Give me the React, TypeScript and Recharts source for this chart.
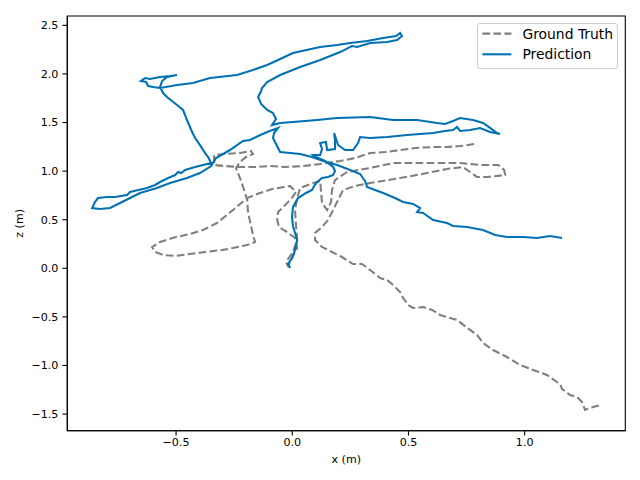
import React from 'react';
import { LineChart, Line, XAxis, YAxis, Legend, ReferenceArea } from 'recharts';

// Ground truth trajectory (x, z) in metres
const groundTruth: [number, number][] = [
  [0.782, 1.279], [0.756, 1.268], [0.722, 1.258], [0.666, 1.248], [0.606, 1.248], [0.529, 1.238],
  [0.464, 1.217], [0.399, 1.196], [0.335, 1.186], [0.270, 1.135], [0.206, 1.104], [0.120, 1.073],
  [0.046, 1.052], [-0.031, 1.042], [-0.096, 1.052], [-0.160, 1.042], [-0.225, 1.042], [-0.289, 1.052],
  [-0.336, 1.063], [-0.336, 1.166], [-0.289, 1.176], [-0.225, 1.186], [-0.178, 1.207], [-0.169, 1.176],
  [-0.199, 1.145], [-0.225, 1.094], [-0.242, 1.032], [-0.225, 0.929], [-0.207, 0.806], [-0.194, 0.703],
  [-0.190, 0.569], [-0.177, 0.435], [-0.168, 0.332], [-0.160, 0.271], [-0.194, 0.240], [-0.255, 0.209],
  [-0.302, 0.188], [-0.375, 0.168], [-0.440, 0.147], [-0.504, 0.127], [-0.556, 0.137], [-0.590, 0.168],
  [-0.603, 0.219], [-0.569, 0.271], [-0.500, 0.322], [-0.440, 0.353], [-0.384, 0.394], [-0.324, 0.466],
  [-0.255, 0.600], [-0.194, 0.723], [-0.139, 0.775], [-0.087, 0.816], [-0.035, 0.836], [-0.009, 0.847],
  [0.016, 0.785], [-0.005, 0.713], [-0.035, 0.641], [-0.061, 0.579], [-0.065, 0.497], [-0.057, 0.425],
  [-0.022, 0.373], [0.012, 0.312], [0.021, 0.209], [-0.001, 0.106], [-0.018, 0.024], [-0.027, 0.065],
  [0.003, 0.168], [0.021, 0.291], [0.016, 0.445], [0.012, 0.600], [0.021, 0.723], [0.034, 0.826],
  [0.090, 0.878], [0.120, 0.898], [0.124, 0.785], [0.128, 0.672], [0.150, 0.600], [0.167, 0.682],
  [0.171, 0.806], [0.184, 0.908], [0.236, 0.991], [0.335, 1.032], [0.434, 1.083], [0.580, 1.083],
  [0.722, 1.083], [0.808, 1.063], [0.886, 1.063], [0.912, 1.011], [0.916, 0.960], [0.881, 0.950],
  [0.838, 0.939], [0.795, 0.939], [0.765, 0.991], [0.735, 1.042], [0.666, 1.022], [0.580, 0.980],
  [0.464, 0.929], [0.335, 0.878], [0.270, 0.847], [0.219, 0.806], [0.197, 0.703], [0.176, 0.600],
  [0.154, 0.497], [0.128, 0.425], [0.098, 0.363], [0.098, 0.291], [0.128, 0.219], [0.171, 0.168],
  [0.214, 0.116], [0.261, 0.044], [0.300, 0.044], [0.335, -0.018], [0.378, -0.100], [0.408, -0.120],
  [0.434, -0.172], [0.464, -0.244], [0.477, -0.306], [0.499, -0.378], [0.520, -0.408], [0.563, -0.398],
  [0.602, -0.429], [0.636, -0.480], [0.679, -0.511], [0.709, -0.532], [0.748, -0.604], [0.795, -0.686],
  [0.821, -0.769], [0.864, -0.841], [0.924, -0.913], [0.980, -0.995], [1.036, -1.046], [1.096, -1.098],
  [1.139, -1.170], [1.152, -1.190], [1.161, -1.242], [1.195, -1.303], [1.225, -1.324], [1.247, -1.376],
  [1.260, -1.458], [1.281, -1.437], [1.311, -1.417], [1.329, -1.406],
];

// Predicted trajectory (x, z) in metres
const prediction: [number, number][] = [
  [-0.009, 0.003], [-0.018, 0.044], [-0.001, 0.106], [0.012, 0.188], [0.021, 0.291], [0.012, 0.363],
  [0.003, 0.435], [-0.001, 0.528], [0.003, 0.631], [0.025, 0.723], [0.059, 0.775], [0.085, 0.806],
  [0.094, 0.847], [0.107, 0.888], [0.128, 0.929], [0.154, 0.939], [0.176, 0.960], [0.184, 1.001],
  [0.176, 1.042], [0.141, 1.104], [0.102, 1.145], [0.090, 1.166], [0.120, 1.166], [0.128, 1.227],
  [0.120, 1.289], [0.145, 1.299], [0.150, 1.217], [0.184, 1.227], [0.184, 1.320], [0.180, 1.392],
  [0.197, 1.269], [0.227, 1.217], [0.262, 1.217], [0.283, 1.289], [0.292, 1.351], [0.335, 1.341],
  [0.408, 1.351], [0.494, 1.372], [0.550, 1.382], [0.606, 1.392], [0.657, 1.413], [0.692, 1.423],
  [0.709, 1.454], [0.722, 1.413], [0.765, 1.423], [0.808, 1.444], [0.851, 1.403], [0.894, 1.382],
  [0.881, 1.392], [0.851, 1.444], [0.821, 1.495], [0.778, 1.526], [0.722, 1.546], [0.692, 1.515],
  [0.657, 1.485], [0.623, 1.495], [0.537, 1.526], [0.434, 1.526], [0.335, 1.557], [0.193, 1.546],
  [0.107, 1.526], [0.003, 1.505], [-0.052, 1.495], [-0.087, 1.474], [-0.070, 1.536], [-0.083, 1.598],
  [-0.108, 1.629], [-0.134, 1.691], [-0.147, 1.763], [-0.134, 1.824], [-0.130, 1.855], [-0.108, 1.917],
  [-0.052, 1.989], [0.034, 2.071], [0.120, 2.143], [0.206, 2.225], [0.257, 2.287], [0.279, 2.277],
  [0.335, 2.318], [0.408, 2.328], [0.451, 2.349], [0.472, 2.390], [0.464, 2.421], [0.447, 2.390],
  [0.391, 2.369], [0.322, 2.338], [0.249, 2.318], [0.193, 2.297], [0.120, 2.277], [0.003, 2.215],
  [-0.052, 2.153], [-0.108, 2.092], [-0.169, 2.040], [-0.238, 1.989], [-0.354, 1.958], [-0.427, 1.907],
  [-0.496, 1.886], [-0.569, 1.855], [-0.599, 1.865], [-0.620, 1.876], [-0.629, 1.917], [-0.651, 1.927],
  [-0.633, 1.958], [-0.612, 1.948], [-0.569, 1.968], [-0.526, 1.978], [-0.496, 1.989], [-0.539, 1.968],
  [-0.560, 1.927], [-0.569, 1.865], [-0.556, 1.803], [-0.539, 1.762], [-0.496, 1.680], [-0.470, 1.629],
  [-0.461, 1.577], [-0.453, 1.526], [-0.440, 1.454], [-0.431, 1.402], [-0.418, 1.340], [-0.397, 1.268],
  [-0.375, 1.186], [-0.362, 1.145], [-0.349, 1.083], [-0.384, 1.063], [-0.418, 1.042], [-0.461, 1.011],
  [-0.478, 0.980], [-0.491, 0.991], [-0.504, 0.960], [-0.534, 0.929], [-0.569, 0.888], [-0.590, 0.857],
  [-0.625, 0.826], [-0.698, 0.785], [-0.711, 0.754], [-0.763, 0.733], [-0.797, 0.733], [-0.836, 0.723],
  [-0.849, 0.682], [-0.861, 0.620], [-0.827, 0.610], [-0.784, 0.620], [-0.741, 0.672], [-0.698, 0.723],
  [-0.655, 0.775], [-0.582, 0.826], [-0.526, 0.878], [-0.453, 0.929], [-0.397, 0.980], [-0.349, 1.052],
  [-0.328, 1.135], [-0.268, 1.217], [-0.212, 1.310], [-0.182, 1.320], [-0.147, 1.361], [-0.108, 1.403],
  [-0.061, 1.444], [-0.078, 1.392], [-0.083, 1.341], [-0.070, 1.279], [-0.052, 1.197], [-0.009, 1.186],
  [0.034, 1.176], [0.085, 1.145], [0.133, 1.104], [0.193, 1.063], [0.249, 1.011], [0.292, 0.970],
  [0.313, 0.898], [0.322, 0.836], [0.356, 0.806], [0.391, 0.775], [0.442, 0.723], [0.477, 0.682],
  [0.520, 0.662], [0.550, 0.620], [0.537, 0.579], [0.563, 0.569], [0.606, 0.497], [0.666, 0.466],
  [0.692, 0.435], [0.752, 0.425], [0.821, 0.394], [0.873, 0.343], [0.924, 0.322], [0.993, 0.322],
  [1.053, 0.312], [1.109, 0.333], [1.161, 0.312],
];

const xTicks = [-0.5, 0.0, 0.5, 1.0];
const yTicks = [-1.5, -1.0, -0.5, 0.0, 0.5, 1.0, 1.5, 2.0, 2.5];
const xDomain: [number, number] = [-0.968, 1.433];
const yDomain: [number, number] = [-1.671, 2.596];

const seriesNames = ['Ground Truth', 'Prediction'];
const GT_COLOR = '#7f7f7f';
const PRED_COLOR = '#0072B2';
const FONT = "'DejaVu Sans', sans-serif";

const gtData = groundTruth.map(([x, y]) => ({ x, y }));
const predData = prediction.map(([x, y]) => ({ x, y }));

const fmt = (v: number) => v.toFixed(1).replace('-', '\u2212');

const LegendBox = () => (
  <div
    style={{
      width: 141,
      height: 46,
      boxSizing: 'border-box',
      border: '1px solid #cccccc',
      borderRadius: 3,
      background: 'rgba(255,255,255,0.8)',
      position: 'relative',
      fontFamily: FONT,
      fontSize: 13.9,
      color: '#000',
    }}
  >
    <svg width={141} height={46} style={{ position: 'absolute', left: -1, top: -1 }}>
      <line x1={5.4} x2={34.4} y1={10.6} y2={10.6} stroke={GT_COLOR} strokeWidth={2.08} strokeDasharray="7.7 3.3" />
      <line x1={5.4} x2={34.4} y1={31.3} y2={31.3} stroke={PRED_COLOR} strokeWidth={2.08} />
      <text x={45.4} y={10.6} dominantBaseline="central" fontFamily={FONT} fontSize={13.9} fill="#000">
        {seriesNames[0]}
      </text>
      <text x={45.4} y={31.3} dominantBaseline="central" fontFamily={FONT} fontSize={13.9} fill="#000">
        {seriesNames[1]}
      </text>
    </svg>
  </div>
);

export default function App() {
  const tickStyle = { fill: '#000', fontSize: 11.1, fontFamily: FONT };
  return (
    <div style={{ position: 'absolute', left: 0, top: 0, width: 640, height: 480, background: '#fff' }}>
      <LineChart
        width={640}
        height={480}
        margin={{ top: 16, right: 14.7, bottom: 13.3, left: 17.3 }}
      >
        <XAxis
          type="number"
          dataKey="x"
          domain={xDomain}
          allowDataOverflow
          ticks={xTicks}
          tickFormatter={fmt}
          height={36}
          tickSize={4.9}
          tickMargin={3}
          axisLine={{ stroke: '#000', strokeWidth: 1.1 }}
          tickLine={{ stroke: '#000', strokeWidth: 1.1 }}
          tick={tickStyle}
          label={{ value: 'x (m)', position: 'insideBottom', offset: 4, fill: '#000', fontSize: 11.1, fontFamily: FONT }}
        />
        <YAxis
          type="number"
          dataKey="y"
          domain={yDomain}
          allowDataOverflow
          ticks={yTicks}
          tickFormatter={fmt}
          width={50}
          tickSize={4.9}
          tickMargin={4}
          axisLine={{ stroke: '#000', strokeWidth: 1.1 }}
          tickLine={{ stroke: '#000', strokeWidth: 1.1 }}
          tick={tickStyle}
          label={{
            value: 'z (m)',
            angle: -90,
            position: 'insideLeft',
            offset: 2,
            fill: '#000',
            fontSize: 11.1,
            fontFamily: FONT,
            style: { textAnchor: 'middle' },
          }}
        />
        <ReferenceArea
          x1={xDomain[0]}
          x2={xDomain[1]}
          y1={yDomain[0]}
          y2={yDomain[1]}
          fill="none"
          stroke="#000"
          strokeWidth={1.1}
          ifOverflow="visible"
        />
        <Line
          data={gtData}
          dataKey="y"
          name={seriesNames[0]}
          type="linear"
          stroke={GT_COLOR}
          strokeWidth={2.08}
          strokeDasharray="7.7 3.3"
          dot={false}
          activeDot={false}
          isAnimationActive={false}
        />
        <Line
          data={predData}
          dataKey="y"
          name={seriesNames[1]}
          type="linear"
          stroke={PRED_COLOR}
          strokeWidth={2.08}
          dot={false}
          activeDot={false}
          isAnimationActive={false}
        />
        <Legend
          layout="horizontal"
          verticalAlign="middle"
          align="center"
          wrapperStyle={{ position: 'absolute', left: 477, top: 22.7, width: 141, height: 46, margin: 0 }}
          content={() => <LegendBox />}
        />
      </LineChart>
    </div>
  );
}
